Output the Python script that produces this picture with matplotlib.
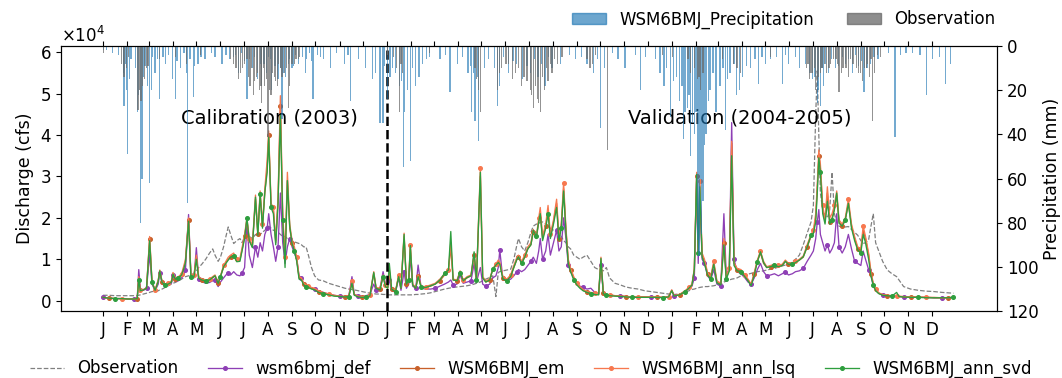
import numpy as np
import pandas as pd
import matplotlib
matplotlib.use('Agg')
import matplotlib.pyplot as plt
from matplotlib.patches import Patch

# ---------------- data ----------------
# day index counted from 2003-01-01, discharge in 1e4 cfs
day = [0, 8, 16, 24, 32, 40, 44, 46, 48, 52,
       56, 60, 63, 67, 71, 73, 76, 80, 84, 88,
       90, 93, 97, 101, 104, 106, 110, 113, 117, 120,
       123, 127, 132, 137, 141, 144, 148, 151, 155, 158,
       161, 164, 168, 172, 176, 179, 182, 185, 188, 192,
       196, 199, 202, 205, 208, 211, 213, 216, 219, 222,
       225, 228, 231, 234, 237, 240, 243, 246, 249, 252,
       255, 258, 261, 264, 268, 272, 277, 283, 290, 297,
       304, 311, 316, 320, 323, 328, 333, 338, 343, 348,
       351, 356, 360, 363,
       # 2004
       366, 368, 371, 376, 380, 383, 387, 390, 393, 395,
       398, 402, 405, 409, 415, 421, 427, 433, 439, 444,
       447, 450, 455, 459, 463, 468, 473, 477, 480, 485,
       488, 492, 497, 501, 505, 508, 510, 514, 519, 524,
       528, 532, 534, 538, 542, 546, 550, 553, 557, 560,
       562, 565, 569, 572, 575, 579, 583, 586, 589, 592,
       595, 598, 601, 605, 609, 613, 617, 622, 627, 632,
       637, 640, 643, 647, 651, 658, 665, 672, 680, 688,
       696, 704, 712, 720, 727,
       # 2005
       731, 734, 741, 748, 753, 757, 760, 763, 765, 767,
       770, 773, 777, 781, 785, 789, 794, 798, 801, 805,
       808, 811, 815, 820, 825, 829, 833, 837, 841, 845,
       849, 853, 858, 863, 868, 873, 877, 881, 886, 890,
       895, 900, 905, 910, 913, 916, 918, 920, 922, 925,
       928, 931, 934, 937, 940, 943, 946, 950, 954, 958,
       962, 966, 970, 974, 977, 980, 984, 987, 990, 993,
       997, 1002, 1008, 1014, 1020, 1023, 1029, 1038, 1048, 1058,
       1068, 1078, 1086, 1093]

q_obs = [.13, .13, .12, .12, .12, .12, .12, .13, .14, .16,
         .18, .20, .22, .22, .24, .26, .28, .32, .36, .40,
         .42, .44, .48, .52, .56, .58, .60, .62, .66, .72,
         .80, .88, 1.00, 1.15, 1.25, 1.10, .95, 1.05, 1.30, 1.55,
         1.78, 1.60, 1.38, 1.45, 1.50, 1.40, 1.55, 1.60, 1.55, 1.50,
         1.60, 1.55, 1.60, 1.65, 1.70, 1.75, 1.80, 1.75, 1.70, 1.68,
         1.65, 1.60, 1.55, 1.55, 1.50, 1.50, 1.45, 1.42, 1.40, 1.38,
         1.35, 1.30, 1.30, 1.10, .80, .60, .50, .48, .42, .38,
         .34, .30, .28, .27, .26, .24, .22, .20, .18, .17,
         .16, .16, .15, .15,
         .14, .14, .14, .14, .14, .14, .14, .14, .14, .14,
         .14, .15, .15, .16, .17, .19, .22, .25, .28, .30,
         .31, .32, .33, .34, .35, .36, .38, .40, .42, .45,
         .48, .52, .56, .60, .10, .68, .70, .72, .74, .76,
         1.00, 1.35, 1.50, 1.30, 1.20, 1.40, 1.65, 1.80, 1.85, 1.85,
         1.90, 1.90, 1.85, 1.80, 1.75, 1.70, 1.65, 1.60, 1.55, 1.45,
         1.40, 1.30, 1.25, 1.10, 1.05, 1.00, 1.05, 1.10, .95, .80,
         .75, .74, .72, .80, .55, .42, .38, .33, .30, .28,
         .24, .22, .20, .18, .16,
         .15, .15, .16, .20, .24, .27, .28, .30, .31, .32,
         .33, .34, .34, .35, .36, .38, .40, .45, .47, .50,
         .52, .53, .55, .60, .62, .64, .66, .68, .70, .71,
         .72, .74, .76, .78, .81, .84, .86, .88, .94, 1.00,
         1.10, 1.35, 1.63, 1.90, 2.30, 4.50, 5.55, 4.00, 2.60, 2.20,
         2.05, 2.00, 2.20, 3.10, 2.10, 1.90, 1.80, 1.78, 1.78, 1.79,
         1.72, 1.65, 1.58, 1.45, 1.38, 1.40, 1.47, 1.80, 2.10, 1.40,
         1.20, .95, .74, .65, .58, .50, .34, .28, .25, .23,
         .22, .20, .19, .18]

q_def = [.08, .06, .05, .05, .04, .04, .05, .75, .30, .25,
         .30, 1.12, .40, .24, .40, .68, .40, .36, .38, .42,
         .62, .46, .48, .55, .62, .75, 2.08, .62, .55, 1.28,
         .52, .46, .42, .44, .48, .50, .34, .45, .55, .62,
         .68, .62, .70, .62, .60, .68, .80, 1.85, 1.10, .80,
         1.30, 1.05, 1.40, 1.20, 1.60, 1.75, 2.10, 1.60, 1.30, .95,
         1.30, 2.60, 1.40, .90, 1.30, 1.50, 1.30, 1.15, 1.00, .60,
         .55, .40, .38, .35, .30, .28, .24, .20, .16, .13,
         .11, .10, .12, .58, .15, .12, .10, .12, .15, .40,
         .25, .30, .70, .40,
         .35, .50, .25, .20, .55, .25, .70, .30, .40, 1.10,
         .35, .30, .86, .30, .28, .28, .30, .35, .40, .45,
         .50, .38, .40, .62, .42, .45, .48, .90, .45, .80,
         .40, .35, .40, .55, .60, .80, 1.22, .50, .48, .52,
         .60, .70, .75, .70, .75, .85, .95, 1.05, .90, 1.20,
         1.50, 1.00, 1.20, 1.60, 1.10, 1.40, 1.70, 1.20, 1.30, 2.00,
         1.50, .85, .70, .55, .40, .35, .32, .28, .30, .20,
         .17, .85, .20, .14, .13, .12, .11, .10, .09, .09,
         .09, .09, .08, .08, .10,
         .25, .12, .14, .22, .30, .35, .55, 2.90, .90, 2.60,
         1.00, .90, .60, .50, .75, .40, .35, 2.10, .60, .80,
         4.30, 1.00, .70, .65, .55, .45, .40, .55, .75, .90,
         .70, .60, .62, .65, .60, .65, .70, .62, .65, .70,
         .72, .78, .95, 1.10, 1.20, 1.50, 1.90, 2.20, 1.60, 1.40,
         1.20, 1.35, 1.15, 1.25, 1.40, 2.10, 1.30, 1.15, 1.30, 1.60,
         1.25, .95, .90, .85, 1.20, 1.00, .75, .60, .35, .25,
         .18, .14, .12, .11, .10, .10, .09, .09, .08, .08,
         .07, .07, .07, .08]

q_em = [.08, .06, .05, .05, .04, .04, .05, .55, .25, .26,
        .30, 1.50, .45, .25, .48, .72, .45, .38, .40, .45,
        .66, .52, .55, .62, .80, .95, 1.95, .60, .60, 1.05,
        .55, .50, .48, .50, .55, .60, .42, .58, .80, .92,
        1.00, 1.05, 1.10, .95, .98, 1.25, 1.55, 1.95, 1.45, 1.30,
        2.45, 1.60, 2.55, 1.80, 2.60, 3.20, 4.00, 2.30, 2.20, 1.40,
        2.40, 4.70, 2.00, 1.00, 2.90, 1.75, 1.40, 1.25, 1.00, .55,
        .52, .40, .36, .34, .30, .28, .22, .18, .15, .12,
        .10, .10, .11, .45, .14, .10, .09, .10, .12, .65,
        .30, .28, .60, .35,
        .30, .70, .28, .22, .60, .30, 1.55, .40, .50, 1.30,
        .38, .30, .60, .32, .32, .35, .40, .48, .62, .72,
        1.30, .50, .48, .70, .48, .55, .60, 1.10, .50, 3.00,
        .55, .45, .50, .75, .85, .95, .90, .55, .50, .60,
        .80, 1.00, 1.05, .90, 1.05, 1.25, 1.35, 1.65, 1.50, 1.90,
        2.10, 1.50, 1.80, 2.20, 1.55, 1.90, 2.35, 1.50, 1.80, 2.70,
        1.70, .95, .75, .55, .40, .32, .25, .20, .18, .16,
        .15, .95, .18, .14, .13, .12, .11, .10, .09, .09,
        .09, .09, .08, .08, .10,
        .25, .12, .14, .22, .30, .38, .75, 3.00, 1.20, 2.80,
        1.10, .95, .65, .55, .90, .45, .40, 1.40, .55, .75,
        3.80, .90, .75, .72, .60, .50, .38, .65, .95, 1.15,
        .90, .80, .82, .85, .82, .85, .95, .88, .90, .92,
        .98, 1.05, 1.30, 1.55, 1.65, 2.00, 2.70, 3.50, 3.20, 2.20,
        1.90, 2.60, 1.90, 2.00, 2.20, 2.55, 1.90, 1.80, 1.95, 2.35,
        1.80, 1.50, 1.25, 1.20, 1.70, 1.50, 1.10, .65, .40, .26,
        .18, .14, .12, .11, .10, .10, .09, .09, .08, .08,
        .07, .07, .07, .08]

q_lsq = [.08, .06, .05, .05, .04, .04, .05, .58, .26, .27,
         .31, 1.55, .46, .26, .50, .74, .46, .40, .42, .48,
         .68, .55, .58, .65, .85, 1.00, 2.00, .62, .62, 1.10,
         .58, .52, .50, .52, .58, .62, .44, .60, .85, .95,
         1.05, 1.10, 1.15, 1.00, 1.02, 1.30, 1.60, 2.00, 1.50, 1.35,
         2.55, 1.65, 2.65, 1.85, 2.70, 3.40, 4.10, 2.35, 2.25, 1.45,
         2.50, 4.95, 2.10, 1.05, 3.10, 1.85, 1.45, 1.30, 1.05, .58,
         .55, .42, .38, .35, .32, .30, .24, .20, .16, .13,
         .11, .10, .12, .48, .15, .11, .10, .11, .13, .70,
         .32, .30, .62, .38,
         .32, .75, .30, .24, .62, .32, 1.63, .42, .55, 1.35,
         .40, .32, .62, .34, .34, .38, .42, .52, .65, .75,
         1.40, .52, .50, .72, .50, .58, .62, 1.15, .52, 3.20,
         .58, .48, .52, .78, .88, .98, .92, .58, .52, .62,
         .85, 1.05, 1.10, .95, 1.10, 1.30, 1.40, 1.72, 1.55, 2.00,
         2.25, 1.55, 1.85, 2.30, 1.60, 1.95, 2.45, 1.55, 1.85, 2.85,
         1.75, 1.00, .78, .58, .42, .34, .27, .22, .20, .18,
         .16, 1.05, .20, .15, .14, .12, .11, .10, .09, .09,
         .09, .09, .09, .08, .10,
         .26, .12, .15, .24, .32, .40, .78, 3.10, 1.25, 2.90,
         1.15, 1.00, .68, .58, .95, .48, .42, 1.50, .58, .78,
         3.85, .92, .78, .75, .62, .52, .40, .68, .98, 1.20,
         .95, .82, .85, .88, .85, .88, .98, .90, .92, .95,
         1.00, 1.08, 1.35, 1.60, 1.70, 2.10, 2.80, 3.64, 3.30, 2.30,
         1.95, 2.75, 2.00, 2.10, 2.30, 2.65, 1.95, 1.85, 2.00, 2.45,
         1.85, 1.55, 1.30, 1.25, 1.80, 1.55, 1.15, .70, .42, .28,
         .19, .15, .13, .12, .11, .11, .10, .09, .09, .08,
         .08, .07, .07, .08]

q_svd = [.08, .06, .05, .05, .04, .04, .05, .50, .24, .26,
         .30, 1.45, .44, .25, .47, .72, .44, .38, .40, .45,
         .64, .52, .55, .62, .78, .92, 1.92, .58, .58, 1.00,
         .54, .50, .48, .50, .56, .60, .42, .58, .82, .90,
         .98, 1.05, 1.08, .94, .95, 1.22, 1.50, 2.00, 1.45, 1.28,
         2.50, 1.58, 2.58, 1.75, 2.62, 3.10, 3.95, 2.25, 2.10, 1.35,
         2.35, 4.50, 1.95, .80, 2.90, 1.80, 1.38, 1.20, .95, .52,
         .50, .38, .34, .32, .28, .26, .20, .17, .14, .11,
         .10, .09, .10, .42, .13, .09, .08, .09, .11, .68,
         .30, .26, .58, .34,
         .30, .90, .28, .22, .58, .30, 1.60, .40, .50, 1.33,
         .38, .30, .58, .32, .32, .36, .40, .50, .66, .74,
         1.67, .50, .48, .68, .48, .56, .60, 1.18, .50, 3.10,
         .55, .45, .50, .76, .86, .92, .88, .52, .48, .58,
         .80, 1.00, 1.06, .90, 1.05, 1.25, 1.35, 1.70, 1.55, 1.90,
         2.10, 1.45, 1.75, 2.10, 1.50, 1.85, 2.25, 1.45, 1.75, 2.65,
         1.65, .90, .70, .50, .38, .30, .24, .20, .17, .15,
         .14, 1.02, .17, .13, .12, .11, .10, .09, .08, .08,
         .08, .08, .08, .07, .09,
         .24, .11, .14, .22, .30, .38, .75, 3.05, 1.15, 2.75,
         1.05, .90, .62, .52, .88, .43, .38, 1.35, .52, .72,
         3.50, .85, .72, .70, .58, .48, .36, .62, .94, 1.18,
         .92, .80, .82, .86, .82, .85, .95, .88, .88, .92,
         .98, 1.06, 1.30, 1.58, 1.62, 1.90, 2.60, 3.45, 3.10, 2.10,
         1.85, 2.40, 1.85, 1.95, 2.20, 2.60, 1.87, 1.80, 1.95, 2.35,
         1.75, 1.45, 1.22, 1.15, 1.60, 1.40, 1.00, .60, .38, .24,
         .17, .13, .12, .11, .20, .10, .09, .08, .08, .07,
         .07, .07, .07, .08]

# daily precipitation (mm), only the days with rain
wsm_p_day = [1, 5, 12, 20, 27, 30, 32, 36, 44, 48,
             50, 57, 60, 64, 67, 73, 80, 84, 89, 93,
             100, 104, 109, 112, 116, 122, 131, 139, 144, 153,
             158, 163, 168, 174, 178, 185, 188, 192, 199, 204,
             207, 210, 213, 217, 221, 225, 230, 235, 240, 243,
             247, 251, 256, 260, 265, 270, 276, 283, 292, 300,
             310, 318, 328, 337, 346, 356, 360, 366, 372, 381,
             386, 388, 395, 402, 411, 420, 433, 446, 456, 469,
             474, 478, 483, 490, 507, 510, 521, 531, 539, 549,
             559, 568, 577, 588, 607, 622, 630, 639, 645, 662,
             671, 684, 697, 710, 716, 721, 729, 737, 746, 751,
             755, 760, 764, 766, 769, 771, 775, 780, 788, 793,
             800, 806, 814, 822, 832, 842, 851, 858, 873, 881,
             890, 903, 912, 918, 922, 926, 932, 941, 954, 963,
             971, 978, 986, 996, 1018, 1025, 1040, 1058, 1083, 1089,
             26, 29, 34, 42, 46, 52, 54, 62, 70, 77,
             95, 107, 118, 126, 170, 182, 195, 202, 215, 228,
             232, 238, 245, 262, 268, 280, 315, 350, 362, 369,
             376, 384, 391, 398, 406, 416, 440, 462, 472, 476,
             481, 495, 503, 515, 527, 545, 555, 564, 573, 600,
             615, 636, 655, 691, 724, 733, 741, 744, 748, 753,
             758, 762, 768, 773, 778, 784, 797, 803, 811, 818,
             827, 838, 847, 866, 877, 895, 908, 915, 920, 924,
             929, 936, 945, 950, 958, 967, 975, 982, 991, 1010,
             1032, 1050, 1066, 1075]
wsm_p_mm = [2, 2, 3, 4, 27, 20, 49, 6, 30, 80,
            60, 18, 62, 5, 12, 24, 8, 4, 15, 24,
            10, 3, 71, 6, 23, 8, 6, 3, 5, 8,
            4, 6, 5, 12, 3, 24, 6, 10, 15, 18,
            8, 12, 5, 20, 9, 15, 33, 14, 6, 10,
            4, 8, 5, 12, 3, 24, 4, 6, 10, 3,
            8, 25, 6, 10, 15, 35, 35, 24, 10, 18,
            55, 30, 52, 18, 8, 5, 6, 21, 8, 12,
            30, 34, 43, 10, 27, 18, 12, 8, 15, 12,
            14, 18, 10, 8, 6, 8, 12, 37, 10, 6,
            10, 4, 5, 6, 12, 18, 32, 14, 42, 28,
            50, 40, 88, 95, 85, 70, 40, 20, 30, 18,
            38, 12, 22, 14, 10, 17, 8, 6, 17, 8,
            5, 8, 15, 26, 27, 18, 12, 10, 8, 12,
            9, 21, 8, 6, 41, 4, 3, 22, 17, 8,
            12, 8, 15, 10, 22, 14, 9, 20, 6, 5,
            7, 12, 9, 5, 4, 7, 5, 8, 6, 10,
            12, 8, 9, 6, 7, 5, 4, 12, 9, 14,
            12, 16, 20, 10, 14, 6, 4, 5, 9, 12,
            14, 6, 10, 5, 7, 9, 6, 8, 5, 4,
            5, 6, 3, 20, 10, 16, 25, 18, 30, 22,
            35, 30, 60, 45, 25, 12, 10, 15, 8, 20,
            9, 6, 5, 5, 4, 10, 12, 14, 20, 10,
            8, 6, 9, 5, 6, 4, 7, 10, 5, 3,
            3, 4, 6, 5]

obs_p_day = [1, 27, 30, 45, 49, 53, 58, 73, 93, 107,
             125, 168, 174, 179, 185, 189, 193, 197, 201, 204,
             208, 212, 216, 220, 224, 228, 233, 238, 243, 248,
             253, 366, 377, 381, 385, 420, 480, 485, 507, 510,
             518, 526, 534, 541, 549, 553, 558, 562, 567, 572,
             577, 584, 622, 626, 633, 648, 719, 732, 755, 764,
             768, 771, 796, 810, 815, 819, 858, 904, 908, 912,
             916, 920, 924, 930, 935, 942, 946, 951, 958, 964,
             971, 976, 981, 985, 989, 992, 999,
             24, 33, 47, 51, 56, 164, 171, 177, 182, 187,
             191, 195, 199, 203, 206, 210, 214, 218, 222, 226,
             230, 236, 240, 246, 251, 373, 383, 478, 483, 512,
             521, 530, 538, 545, 551, 556, 560, 565, 570, 575,
             580, 590, 629, 752, 760, 766, 906, 910, 914, 918,
             922, 927, 933, 939, 944, 949, 955, 961, 968, 974,
             979, 983, 987, 995]
obs_p_mm = [3, 14, 10, 29, 25, 15, 9, 6, 5, 8,
            4, 8, 15, 10, 6, 18, 22, 14, 20, 26,
            18, 41, 22, 14, 18, 10, 12, 28, 8, 6,
            5, 4, 10, 30, 12, 3, 15, 30, 20, 12,
            8, 15, 10, 14, 20, 28, 24, 30, 20, 16,
            12, 8, 6, 10, 4, 47, 4, 5, 12, 15,
            20, 12, 6, 8, 10, 12, 5, 10, 15, 12,
            20, 14, 10, 12, 8, 6, 21, 10, 14, 8,
            12, 16, 10, 14, 34, 12, 5,
            8, 5, 20, 18, 10, 6, 10, 12, 8, 14,
            10, 16, 12, 18, 10, 15, 20, 12, 16, 8,
            14, 10, 18, 8, 6, 5, 8, 10, 20, 10,
            8, 12, 18, 16, 22, 18, 26, 14, 10, 8,
            6, 5, 8, 6, 10, 14, 8, 12, 10, 16,
            12, 8, 10, 6, 8, 12, 10, 6, 10, 12,
            10, 8, 6, 4]

month_letters = ['J', 'F', 'M', 'A', 'M', 'J', 'J', 'A', 'S', 'O', 'N', 'D']

# ---------------- plot ----------------
start = pd.Timestamp('2003-01-01')
def to_date(d):
    return start + pd.to_timedelta(np.asarray(d), unit='D')

t = to_date(day)
scale = 1e4

fig = plt.figure(figsize=(10.62, 3.78), dpi=100)
ax = fig.add_axes([0.0574, 0.1772, 0.8814, 0.7011])

ax.plot(t, np.array(q_obs) * scale, '--', color='gray', lw=0.9, label='Observation')
series = [
    (q_def, '#8e3fb5', 'wsm6bmj_def', 0),
    (q_em, '#c8602a', 'WSM6BMJ_em', 1),
    (q_lsq, '#f7784f', 'WSM6BMJ_ann_lsq', 3),
    (q_svd, '#2e9e3e', 'WSM6BMJ_ann_svd', 2),
]
for q, c, lab, off in series:
    ax.plot(t, np.array(q) * scale, '-', color=c, lw=0.95, marker='o', ms=2.6,
            markevery=(off, 5), label=lab)

ax.axvline(pd.Timestamp('2004-01-01'), color='black', ls='--', lw=1.8)

ax.set_xlim(pd.Timestamp('2002-11-08'), pd.Timestamp('2006-02-23'))
ax.set_ylim(-2500, 61500)
ax.set_ylabel('Discharge (cfs)', fontsize=12.5)
ax.ticklabel_format(axis='y', style='sci', scilimits=(0, 0), useMathText=True)
ax.yaxis.get_offset_text().set_fontsize(12)

months = pd.date_range('2003-01-01', '2005-12-01', freq='MS')
ax.set_xticks(months)
ax.set_xticklabels([month_letters[m.month - 1] for m in months])
ax.tick_params(axis='both', labelsize=12)
ax.tick_params(axis='x', top=True)

ax.text(pd.Timestamp('2003-08-03'), 44000, 'Calibration (2003)', fontsize=14,
        ha='center', va='center')
ax.text(pd.Timestamp('2005-03-30'), 44000, 'Validation (2004-2005)', fontsize=14,
        ha='center', va='center')

# precipitation hanging from the top
ax2 = ax.twinx()
ax2.bar(to_date(wsm_p_day), wsm_p_mm, width=1.6, color='tab:blue', alpha=0.62)
ax2.bar(to_date(obs_p_day), obs_p_mm, width=1.6, color='dimgray', alpha=0.72)
ax2.set_ylim(120, 0)
ax2.set_ylabel('Precipitation (mm)', fontsize=12.5, labelpad=3)
ax2.tick_params(axis='y', labelsize=12)

top_handles = [Patch(color='tab:blue', alpha=0.65, label='WSM6BMJ_Precipitation'),
               Patch(color='dimgray', alpha=0.75, label='Observation')]
ax.legend(handles=top_handles, loc='lower right', bbox_to_anchor=(1.005, 1.04),
          ncol=2, frameon=False, fontsize=12, borderaxespad=0.0, columnspacing=2.0)

h, l = ax.get_legend_handles_labels()
fig.legend(h, l, loc='center', bbox_to_anchor=(0.5, 0.025), ncol=5,
           frameon=False, fontsize=12, columnspacing=1.8)

fig.savefig('out.png', dpi=100)
